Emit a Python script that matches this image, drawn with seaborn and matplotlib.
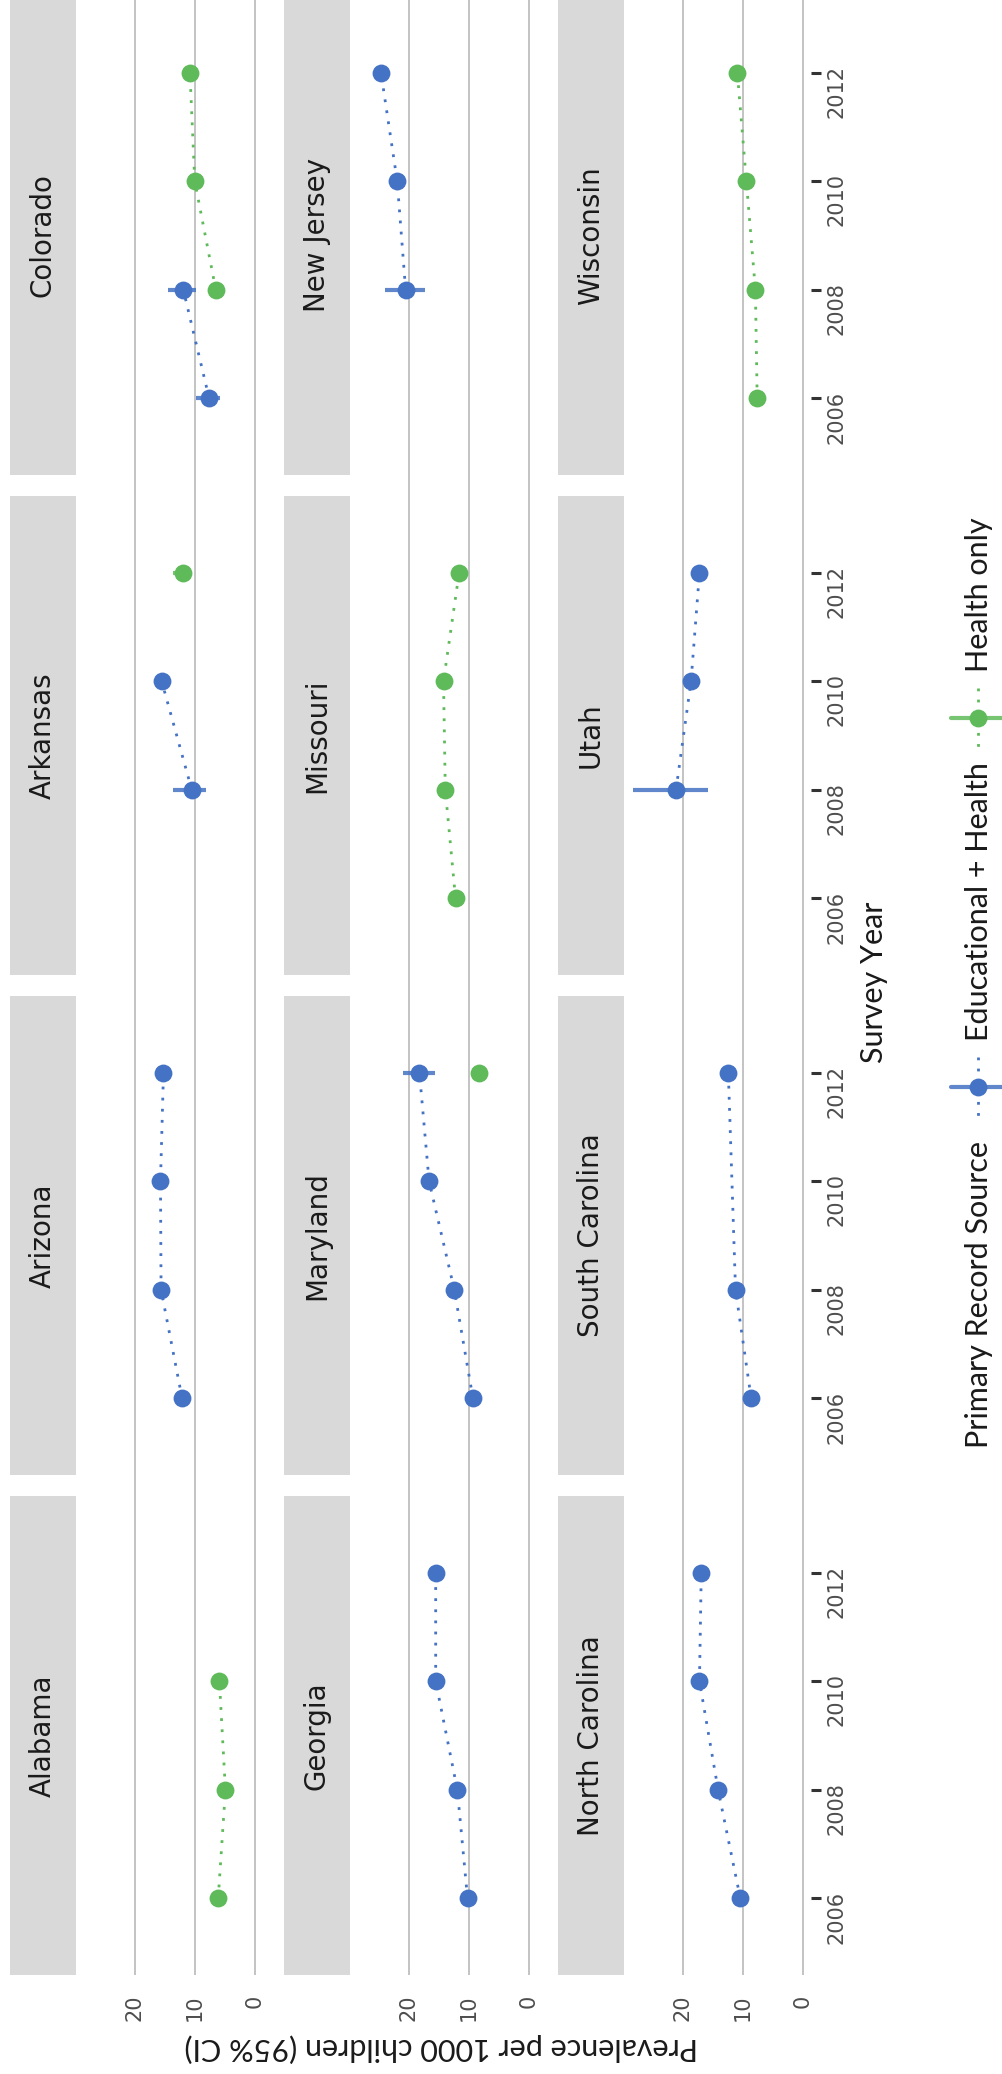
import numpy as np
import pandas as pd
import seaborn as sns
import matplotlib.pyplot as plt

# ---- data ----
years = [2006, 2008, 2010, 2012]
states = ["Alabama", "Arizona", "Arkansas", "Colorado",
          "Georgia", "Maryland", "Missouri", "New Jersey",
          "North Carolina", "South Carolina", "Utah", "Wisconsin"]
sources = ["Educational + Health", "Health only"]
nan = np.nan

# prevalence per 1000 children, by survey year 2006, 2008, 2010, 2012
edu_health = {
    "Arizona": [12.1, 15.6, 15.7, 15.2],
    "Arkansas": [nan, 10.5, 15.5, nan],
    "Colorado": [7.6, 11.9, nan, nan],
    "Georgia": [10.2, 11.9, 15.5, 15.5],
    "Maryland": [9.3, 12.4, 16.6, 18.2],
    "New Jersey": [nan, 20.5, 21.9, 24.6],
    "North Carolina": [10.4, 14.1, 17.2, 16.9],
    "South Carolina": [8.6, 11.2, nan, 12.4],
    "Utah": [nan, 21.1, 18.6, 17.2],
}
health_only = {
    "Alabama": [6.1, 4.9, 5.9, nan],
    "Arkansas": [nan, nan, nan, 12.0],
    "Colorado": [nan, 6.5, 10.0, 10.8],
    "Maryland": [nan, nan, nan, 8.3],
    "Missouri": [12.2, 13.9, 14.2, 11.6],
    "Wisconsin": [7.6, 7.9, 9.4, 10.9],
}
# 95% CI where wider than the marker
edu_ci = {
    ("Colorado", 2006): (5.8, 9.8),
    ("Colorado", 2008): (9.8, 14.5),
    ("New Jersey", 2008): (17.3, 24.0),
    ("Arkansas", 2008): (8.1, 13.7),
    ("Utah", 2008): (15.7, 28.3),
    ("Maryland", 2012): (15.6, 21.0),
}
health_ci = {
    ("Arkansas", 2012): (10.5, 13.7),
}
colors = ["#4472c4", "#5fba5a"]

rows = []
for src, vals, cis in zip(sources, [edu_health, health_only], [edu_ci, health_ci]):
    for st in states:
        for yr, v in zip(years, vals.get(st, [nan] * 4)):
            if np.isnan(v):
                continue
            lo, hi = cis.get((st, yr), (nan, nan))
            rows.append(dict(state=st, year=yr, source=src, prev=v, lo=lo, hi=hi))
df = pd.DataFrame(rows)

# ---- layout (the chart is drawn turned a quarter turn) ----
sns.set_theme(style="white")
plt.rcParams['font.family'] = ['DejaVu Sans']

W, H = 1002, 2074
fig = plt.figure(figsize=(W / 100, H / 100), dpi=100)


def rect(x0, y0, x1, y1):
    return [x0 / W, 1 - y1 / H, (x1 - x0) / W, (y1 - y0) / H]


def fpos(x, y):
    return x / W, 1 - y / H


panel_left = [76, 350, 624]
panel_w = 187
strip_w = 66
col_top = [1496, 996, 496, -4]
panel_h = 479
XLIM = (29.75, -1.35)
YLIM = (2004.59, 2013.41)
grid_c = "#c3c3c3"

for r in range(3):
    bg = fig.add_axes(rect(panel_left[r], -4, panel_left[r] + panel_w, 1975))
    bg.set_xlim(*XLIM)
    for g in [0, 10, 20]:
        bg.axvline(g, color=grid_c, lw=1.4)
    bg.axis("off")
    bg.set_zorder(0)

for i, st in enumerate(states):
    r, c = i // 4, i % 4
    x0 = panel_left[r]
    y0 = col_top[c]

    sax = fig.add_axes(rect(x0 - strip_w, y0, x0, y0 + panel_h))
    sax.set_facecolor("#d9d9d9")
    sax.set_xticks([])
    sax.set_yticks([])
    for s in sax.spines.values():
        s.set_visible(False)
    sax.text(0.5, 0.5, st, rotation=90, ha="center", va="center",
             fontsize=20, color="#1a1a1a", transform=sax.transAxes)

    ax = fig.add_axes(rect(x0, y0, x0 + panel_w, y0 + panel_h))
    ax.set_zorder(2)
    ax.patch.set_alpha(0)
    for src, col in zip(sources, colors):
        d = df[(df.state == st) & (df.source == src)]
        if d.empty:
            continue
        sns.lineplot(data=d, x="prev", y="year", orient="y", sort=True,
                     estimator=None, errorbar=None, color=col, lw=2,
                     linestyle=(0, (1, 3)), legend=False, ax=ax)
        ci = d.dropna(subset=["lo"])
        if len(ci):
            ax.hlines(ci["year"], ci["lo"], ci["hi"], color=col, lw=3, alpha=0.85, zorder=4)
        sns.scatterplot(data=d, x="prev", y="year", color=col, s=165,
                        linewidth=0, legend=False, ax=ax, zorder=3)
    ax.set_xlim(*XLIM)
    ax.set_ylim(*YLIM)
    ax.set_xlabel("")
    ax.set_ylabel("")
    for s in ax.spines.values():
        s.set_visible(False)
    if c == 0:
        ax.set_xticks([0, 10, 20])
        ax.set_xticklabels(["0", "10", "20"], rotation=90)
        ax.tick_params(axis="x", length=0, pad=14, labelsize=15, labelcolor="#4d4d4d")
    else:
        ax.set_xticks([])
    if r == 2:
        ax.yaxis.tick_right()
        ax.set_yticks(years)
        ax.set_yticklabels([str(y) for y in years], rotation=90)
        ax.tick_params(axis="y", right=True, length=7, width=2.2, color="#333333",
                       pad=4, labelsize=15, labelcolor="#4d4d4d")
    else:
        ax.set_yticks([])

# ---- axis titles and legend ----
lato = ["Lato", "DejaVu Sans"]
fig.text(*fpos(874, 982), "Survey Year", rotation=90, ha="center", va="center",
         fontsize=22, family=lato, color="#1a1a1a")
fig.text(*fpos(441, 2048), "Prevalence per 1000 children (95% CI)", rotation=180,
         ha="center", va="center", fontsize=22, family=lato, color="#1a1a1a")

fig.text(*fpos(979, 1294), "Primary Record Source", rotation=90, ha="center", va="center",
         fontsize=22, family=lato, color="#1a1a1a")
fig.text(*fpos(979, 902), sources[0], rotation=90, ha="center", va="center",
         fontsize=22, family=lato, color="#1a1a1a")
fig.text(*fpos(979, 595), sources[1], rotation=90, ha="center", va="center",
         fontsize=22, family=lato, color="#1a1a1a")

lax = fig.add_axes([0, 0, 1, 1])
lax.set_xlim(0, W)
lax.set_ylim(H, 0)
lax.axis("off")
lax.set_zorder(5)
for col, yc in zip(colors, [1087, 718]):
    lax.plot([978, 978], [yc - 30, yc + 30], color=col, lw=2, linestyle=(0, (1, 3)))
    lax.plot([951, 1005], [yc, yc], color=col, lw=3, alpha=0.85)
    lax.scatter([978], [yc], s=165, color=col, linewidths=0, zorder=3)

fig.savefig("out.png", dpi=100)
